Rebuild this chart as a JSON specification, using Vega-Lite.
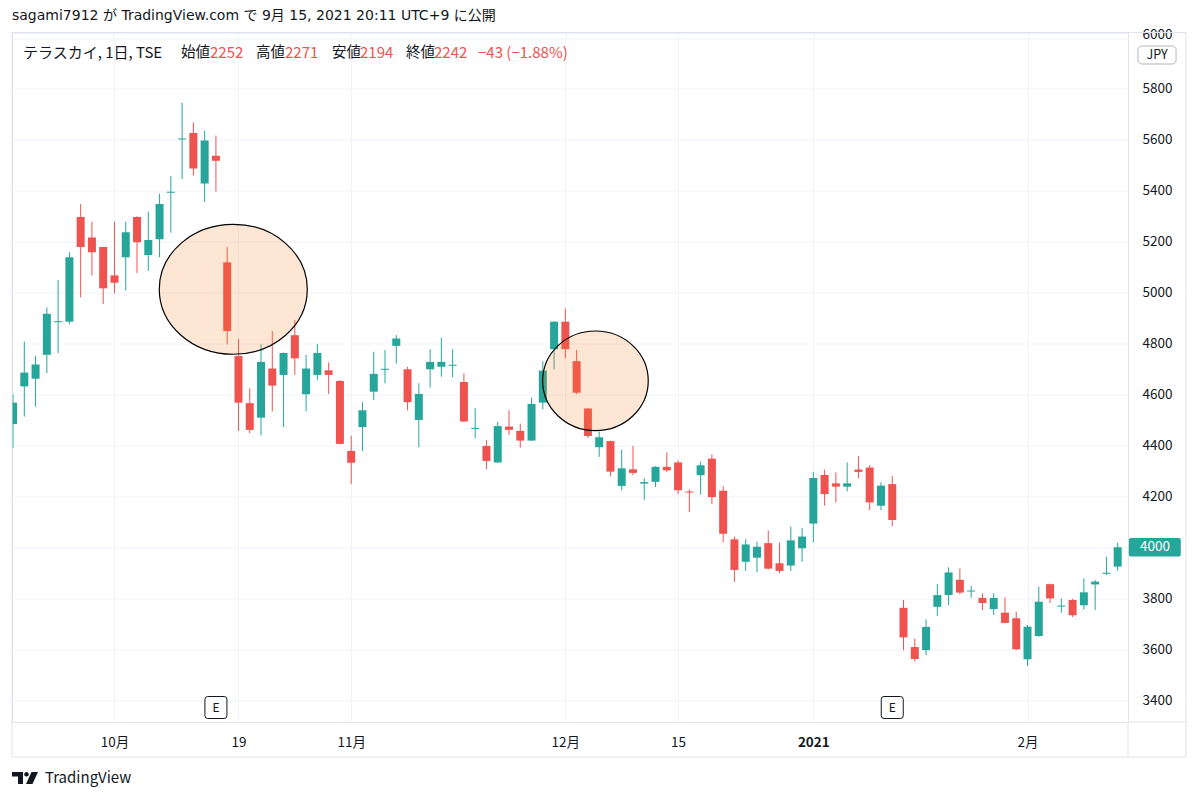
{
  "$schema": "https://vega.github.io/schema/vega-lite/v6.json",
  "width": 1116,
  "height": 689.5,
  "autosize": {"type": "none"},
  "padding": {"left": 12, "top": 32.5, "right": 72, "bottom": 78},
  "background": "#ffffff",
  "title": {"text": "sagami7912 が TradingView.com で 9月 15, 2021 20:11 UTC+9 に公開", "anchor": "start", "frame": "group", "fontSize": 14, "fontWeight": "normal", "color": "#131722", "offset": 4, "font": "DejaVu Sans, Noto Sans CJK JP"},
  "config": {"view": {"stroke": "#e0e3eb"}, "font": "Noto Sans CJK JP"},
  "resolve": {"axis": {"x": "independent", "y": "independent"}},
  "data": {"values": [
    {"i":0,"d":"2020-09-16","o":4484,"h":4600,"l":4390,"c":4568},
    {"i":1,"d":"2020-09-17","o":4632,"h":4808,"l":4513,"c":4686},
    {"i":2,"d":"2020-09-18","o":4662,"h":4751,"l":4552,"c":4718},
    {"i":3,"d":"2020-09-23","o":4756,"h":4942,"l":4684,"c":4917},
    {"i":4,"d":"2020-09-24","o":4884,"h":5050,"l":4762,"c":4888},
    {"i":5,"d":"2020-09-25","o":4886,"h":5159,"l":4876,"c":5139},
    {"i":6,"d":"2020-09-28","o":5297,"h":5348,"l":4981,"c":5179},
    {"i":7,"d":"2020-09-29","o":5217,"h":5279,"l":5067,"c":5159},
    {"i":8,"d":"2020-09-30","o":5179,"h":5180,"l":4956,"c":5017},
    {"i":9,"d":"2020-10-02","o":5068,"h":5279,"l":4997,"c":5039},
    {"i":10,"d":"2020-10-05","o":5139,"h":5279,"l":5008,"c":5237},
    {"i":11,"d":"2020-10-06","o":5297,"h":5300,"l":5077,"c":5198},
    {"i":12,"d":"2020-10-07","o":5148,"h":5318,"l":5085,"c":5207},
    {"i":13,"d":"2020-10-08","o":5210,"h":5388,"l":5139,"c":5348},
    {"i":14,"d":"2020-10-09","o":5392,"h":5458,"l":5236,"c":5396},
    {"i":15,"d":"2020-10-12","o":5602,"h":5747,"l":5446,"c":5606},
    {"i":16,"d":"2020-10-13","o":5627,"h":5669,"l":5460,"c":5488},
    {"i":17,"d":"2020-10-14","o":5429,"h":5636,"l":5357,"c":5598},
    {"i":18,"d":"2020-10-15","o":5538,"h":5617,"l":5397,"c":5518},
    {"i":19,"d":"2020-10-16","o":5119,"h":5179,"l":4797,"c":4849},
    {"i":20,"d":"2020-10-19","o":4751,"h":4818,"l":4457,"c":4568},
    {"i":21,"d":"2020-10-20","o":4566,"h":4624,"l":4448,"c":4461},
    {"i":22,"d":"2020-10-21","o":4509,"h":4797,"l":4439,"c":4728},
    {"i":23,"d":"2020-10-22","o":4702,"h":4849,"l":4534,"c":4635},
    {"i":24,"d":"2020-10-23","o":4677,"h":4765,"l":4472,"c":4763},
    {"i":25,"d":"2020-10-26","o":4833,"h":4893,"l":4677,"c":4742},
    {"i":26,"d":"2020-10-27","o":4601,"h":4755,"l":4534,"c":4702},
    {"i":27,"d":"2020-10-28","o":4677,"h":4798,"l":4657,"c":4763},
    {"i":28,"d":"2020-10-29","o":4695,"h":4726,"l":4602,"c":4677},
    {"i":29,"d":"2020-10-30","o":4653,"h":4657,"l":4404,"c":4406},
    {"i":30,"d":"2020-11-02","o":4378,"h":4438,"l":4248,"c":4332},
    {"i":31,"d":"2020-11-04","o":4472,"h":4570,"l":4378,"c":4538},
    {"i":32,"d":"2020-11-05","o":4611,"h":4768,"l":4578,"c":4681},
    {"i":33,"d":"2020-11-06","o":4697,"h":4775,"l":4644,"c":4701},
    {"i":34,"d":"2020-11-09","o":4791,"h":4833,"l":4722,"c":4820},
    {"i":35,"d":"2020-11-10","o":4699,"h":4709,"l":4538,"c":4570},
    {"i":36,"d":"2020-11-11","o":4500,"h":4644,"l":4393,"c":4602},
    {"i":37,"d":"2020-11-12","o":4699,"h":4778,"l":4628,"c":4728},
    {"i":38,"d":"2020-11-13","o":4709,"h":4823,"l":4670,"c":4728},
    {"i":39,"d":"2020-11-16","o":4713,"h":4778,"l":4668,"c":4717},
    {"i":40,"d":"2020-11-17","o":4649,"h":4683,"l":4492,"c":4494},
    {"i":41,"d":"2020-11-18","o":4465,"h":4546,"l":4428,"c":4469},
    {"i":42,"d":"2020-11-19","o":4398,"h":4421,"l":4307,"c":4339},
    {"i":43,"d":"2020-11-20","o":4333,"h":4492,"l":4331,"c":4476},
    {"i":44,"d":"2020-11-24","o":4474,"h":4538,"l":4441,"c":4461},
    {"i":45,"d":"2020-11-25","o":4457,"h":4486,"l":4391,"c":4419},
    {"i":46,"d":"2020-11-26","o":4419,"h":4588,"l":4417,"c":4563},
    {"i":47,"d":"2020-11-27","o":4568,"h":4731,"l":4542,"c":4694},
    {"i":48,"d":"2020-11-30","o":4778,"h":4888,"l":4699,"c":4886},
    {"i":49,"d":"2020-12-01","o":4886,"h":4938,"l":4742,"c":4778},
    {"i":50,"d":"2020-12-02","o":4731,"h":4775,"l":4602,"c":4607},
    {"i":51,"d":"2020-12-03","o":4545,"h":4547,"l":4429,"c":4437},
    {"i":52,"d":"2020-12-04","o":4393,"h":4454,"l":4355,"c":4432},
    {"i":53,"d":"2020-12-07","o":4417,"h":4419,"l":4278,"c":4297},
    {"i":54,"d":"2020-12-08","o":4241,"h":4383,"l":4223,"c":4310},
    {"i":55,"d":"2020-12-09","o":4306,"h":4398,"l":4284,"c":4292},
    {"i":56,"d":"2020-12-10","o":4250,"h":4271,"l":4186,"c":4256},
    {"i":57,"d":"2020-12-11","o":4257,"h":4318,"l":4237,"c":4316},
    {"i":58,"d":"2020-12-14","o":4316,"h":4373,"l":4297,"c":4302},
    {"i":59,"d":"2020-12-15","o":4333,"h":4341,"l":4209,"c":4224},
    {"i":60,"d":"2020-12-16","o":4219,"h":4227,"l":4139,"c":4215},
    {"i":61,"d":"2020-12-17","o":4283,"h":4337,"l":4207,"c":4322},
    {"i":62,"d":"2020-12-18","o":4348,"h":4365,"l":4169,"c":4197},
    {"i":63,"d":"2020-12-21","o":4222,"h":4240,"l":4019,"c":4053},
    {"i":64,"d":"2020-12-22","o":4031,"h":4042,"l":3864,"c":3911},
    {"i":65,"d":"2020-12-23","o":3943,"h":4031,"l":3907,"c":4011},
    {"i":66,"d":"2020-12-24","o":3959,"h":4022,"l":3902,"c":4002},
    {"i":67,"d":"2020-12-25","o":4016,"h":4066,"l":3913,"c":3916},
    {"i":68,"d":"2020-12-28","o":3937,"h":4018,"l":3898,"c":3907},
    {"i":69,"d":"2020-12-29","o":3928,"h":4081,"l":3907,"c":4027},
    {"i":70,"d":"2020-12-30","o":3996,"h":4075,"l":3943,"c":4042},
    {"i":71,"d":"2021-01-04","o":4093,"h":4296,"l":4019,"c":4272},
    {"i":72,"d":"2021-01-05","o":4284,"h":4305,"l":4163,"c":4209},
    {"i":73,"d":"2021-01-06","o":4251,"h":4294,"l":4176,"c":4238},
    {"i":74,"d":"2021-01-07","o":4238,"h":4333,"l":4219,"c":4251},
    {"i":75,"d":"2021-01-08","o":4305,"h":4358,"l":4271,"c":4296},
    {"i":76,"d":"2021-01-12","o":4313,"h":4323,"l":4146,"c":4176},
    {"i":77,"d":"2021-01-13","o":4163,"h":4255,"l":4146,"c":4242},
    {"i":78,"d":"2021-01-14","o":4248,"h":4280,"l":4083,"c":4107},
    {"i":79,"d":"2021-01-15","o":3762,"h":3793,"l":3596,"c":3646},
    {"i":80,"d":"2021-01-18","o":3608,"h":3641,"l":3551,"c":3561},
    {"i":81,"d":"2021-01-19","o":3596,"h":3717,"l":3577,"c":3687},
    {"i":82,"d":"2021-01-20","o":3766,"h":3855,"l":3731,"c":3812},
    {"i":83,"d":"2021-01-21","o":3812,"h":3921,"l":3773,"c":3901},
    {"i":84,"d":"2021-01-22","o":3872,"h":3917,"l":3815,"c":3822},
    {"i":85,"d":"2021-01-25","o":3826,"h":3848,"l":3802,"c":3830},
    {"i":86,"d":"2021-01-26","o":3801,"h":3819,"l":3753,"c":3781},
    {"i":87,"d":"2021-01-27","o":3757,"h":3819,"l":3734,"c":3801},
    {"i":88,"d":"2021-01-28","o":3743,"h":3803,"l":3701,"c":3703},
    {"i":89,"d":"2021-01-29","o":3721,"h":3747,"l":3597,"c":3599},
    {"i":90,"d":"2021-02-01","o":3560,"h":3695,"l":3534,"c":3688},
    {"i":91,"d":"2021-02-02","o":3651,"h":3845,"l":3649,"c":3786},
    {"i":92,"d":"2021-02-03","o":3855,"h":3857,"l":3781,"c":3799},
    {"i":93,"d":"2021-02-04","o":3767,"h":3799,"l":3743,"c":3771},
    {"i":94,"d":"2021-02-05","o":3793,"h":3797,"l":3726,"c":3733},
    {"i":95,"d":"2021-02-08","o":3772,"h":3878,"l":3755,"c":3823},
    {"i":96,"d":"2021-02-09","o":3854,"h":3871,"l":3754,"c":3865},
    {"i":97,"d":"2021-02-10","o":3896,"h":3963,"l":3891,"c":3900},
    {"i":98,"d":"2021-02-12","o":3924,"h":4018,"l":3908,"c":4000}
  ]},
  "layer": [
    {
      "mark": {"type": "rule", "strokeWidth": 1, "clip": true},
      "encoding": {
        "x": {"field": "i", "type": "quantitative", "scale": {"domain": [-0.0914, 98.915], "nice": false, "zero": false, "padding": 0},
          "axis": {"orient": "bottom", "values": [9, 20, 30, 49, 59, 71, 90],
            "labelExpr": "datum.value==9?'10月':datum.value==20?'19':datum.value==30?'11月':datum.value==49?'12月':datum.value==59?'15':datum.value==71?'2021':'2月'",
            "grid": true, "gridColor": "#f0f3fa", "domain": false, "ticks": false, "labelPadding": 13, "labelFontSize": 13.5, "labelColor": "#131722", "title": null, "labelFlush": false, "labelOverlap": false,
            "labelFontWeight": {"condition": {"test": "datum.value==71", "value": "bold"}, "value": "normal"}}},
        "y": {"field": "l", "type": "quantitative", "scale": {"domain": [3313.6, 6021.9], "nice": false, "zero": false, "padding": 0},
          "axis": {"orient": "right", "values": [3400, 3600, 3800, 4000, 4200, 4400, 4600, 4800, 5000, 5200, 5400, 5600, 5800, 6000],
            "format": "d", "labelExpr": "datum.value == 4000 ? '' : datum.label",
            "labelOffset": {"condition": {"test": "datum.value == 6000", "value": -4}, "value": 0},
            "grid": true, "gridColor": "#f0f3fa", "domain": false, "ticks": false, "labelPadding": 14, "labelFontSize": 13.5, "labelColor": "#131722", "title": null, "labelFlush": false, "labelOverlap": false}},
        "y2": {"field": "h"},
        "color": {"condition": {"test": "datum.c >= datum.o", "value": "#26a69a"}, "value": "#ef5350"}
      }
    },
    {
      "mark": {"type": "bar", "width": 8, "clip": true},
      "encoding": {
        "x": {"field": "i", "type": "quantitative", "axis": null},
        "y": {"field": "o", "type": "quantitative", "axis": null},
        "y2": {"field": "c"},
        "color": {"condition": {"test": "datum.c >= datum.o", "value": "#26a69a"}, "value": "#ef5350"}
      }
    },
    {
      "data": {"values": [{"note": "決算後の急落"}]},
      "mark": {"type": "point", "shape": "M -1 0 C -1 -0.4849 -0.5523 -0.878 0 -0.878 C 0.5523 -0.878 1 -0.4849 1 0 C 1 0.4849 0.5523 0.878 0 0.878 C -0.5523 0.878 -1 0.4849 -1 0 Z", "size": 21904, "filled": true, "fill": "#f5802a", "fillOpacity": 0.2, "stroke": "#000000", "strokeWidth": 1.2, "opacity": 1},
      "encoding": {"x": {"datum": 19.54, "axis": null}, "y": {"datum": 5013.3, "axis": null}}
    },
    {
      "data": {"values": [{"note": "12月の下落"}]},
      "mark": {"type": "point", "shape": "M -1 0 C -1 -0.5208 -0.5523 -0.943 0 -0.943 C 0.5523 -0.943 1 -0.5208 1 0 C 1 0.5208 0.5523 0.943 0 0.943 C -0.5523 0.943 -1 0.5208 -1 0 Z", "size": 11151, "filled": true, "fill": "#f5802a", "fillOpacity": 0.2, "stroke": "#000000", "strokeWidth": 1.2, "opacity": 1},
      "encoding": {"x": {"datum": 51.67, "axis": null}, "y": {"datum": 4653.8, "axis": null}}
    },
    {
      "data": {"values": [{"i": 18, "ev": "E"}, {"i": 78, "ev": "E"}]},
      "mark": {"type": "point", "shape": "M -0.75 -1 L 0.75 -1 Q 1 -1 1 -0.75 L 1 0.75 Q 1 1 0.75 1 L -0.75 1 Q -1 1 -1 0.75 L -1 -0.75 Q -1 -1 -0.75 -1 Z", "size": 484, "filled": true, "fill": "#ffffff", "stroke": "#131722", "strokeWidth": 1, "opacity": 1},
      "encoding": {"x": {"field": "i", "type": "quantitative", "axis": null}, "y": {"datum": 3370.5, "axis": null}}
    },
    {
      "data": {"values": [{"i": 18, "ev": "E"}, {"i": 78, "ev": "E"}]},
      "mark": {"type": "text", "fontSize": 12, "color": "#131722", "align": "center", "baseline": "middle"},
      "encoding": {"x": {"field": "i", "type": "quantitative", "axis": null}, "y": {"datum": 3370.5, "axis": null}, "text": {"field": "ev"}}
    },
    {
      "data": {"values": [{}]},
      "mark": {"type": "text", "text": "テラスカイ, 1日, TSE", "fontSize": 15, "color": "#131722", "align": "left", "baseline": "middle"},
      "encoding": {"x": {"datum": 0.885, "axis": null}, "y": {"datum": 5941.4, "axis": null}}
    },
    {
      "data": {"values": [{}]},
      "mark": {"type": "text", "text": "始値", "fontSize": 14.5, "color": "#131722", "align": "left", "baseline": "middle"},
      "encoding": {"x": {"datum": 14.902, "axis": null}, "y": {"datum": 5941.4, "axis": null}}
    },
    {
      "data": {"values": [{}]},
      "mark": {"type": "text", "text": "2252", "fontSize": 15, "color": "#ef5350", "align": "left", "baseline": "middle"},
      "encoding": {"x": {"datum": 17.475, "axis": null}, "y": {"datum": 5941.4, "axis": null}}
    },
    {
      "data": {"values": [{}]},
      "mark": {"type": "text", "text": "高値", "fontSize": 14.5, "color": "#131722", "align": "left", "baseline": "middle"},
      "encoding": {"x": {"datum": 21.556, "axis": null}, "y": {"datum": 5941.4, "axis": null}}
    },
    {
      "data": {"values": [{}]},
      "mark": {"type": "text", "text": "2271", "fontSize": 15, "color": "#ef5350", "align": "left", "baseline": "middle"},
      "encoding": {"x": {"datum": 24.128, "axis": null}, "y": {"datum": 5941.4, "axis": null}}
    },
    {
      "data": {"values": [{}]},
      "mark": {"type": "text", "text": "安値", "fontSize": 14.5, "color": "#131722", "align": "left", "baseline": "middle"},
      "encoding": {"x": {"datum": 28.298, "axis": null}, "y": {"datum": 5941.4, "axis": null}}
    },
    {
      "data": {"values": [{}]},
      "mark": {"type": "text", "text": "2194", "fontSize": 15, "color": "#ef5350", "align": "left", "baseline": "middle"},
      "encoding": {"x": {"datum": 30.782, "axis": null}, "y": {"datum": 5941.4, "axis": null}}
    },
    {
      "data": {"values": [{}]},
      "mark": {"type": "text", "text": "終値", "fontSize": 14.5, "color": "#131722", "align": "left", "baseline": "middle"},
      "encoding": {"x": {"datum": 34.863, "axis": null}, "y": {"datum": 5941.4, "axis": null}}
    },
    {
      "data": {"values": [{}]},
      "mark": {"type": "text", "text": "2242", "fontSize": 15, "color": "#ef5350", "align": "left", "baseline": "middle"},
      "encoding": {"x": {"datum": 37.347, "axis": null}, "y": {"datum": 5941.4, "axis": null}}
    },
    {
      "data": {"values": [{}]},
      "mark": {"type": "text", "text": "−43 (−1.88%)", "fontSize": 15, "color": "#ef5350", "align": "left", "baseline": "middle"},
      "encoding": {"x": {"datum": 41.251, "axis": null}, "y": {"datum": 5941.4, "axis": null}}
    },
    {
      "data": {"values": [{}]},
      "mark": {"type": "rect", "fill": "#26a69a", "cornerRadius": 2},
      "encoding": {
        "x": {"datum": 98.99, "axis": null},
        "x2": {"datum": 103.6},
        "y": {"datum": 4036, "axis": null},
        "y2": {"datum": 3964}
      }
    },
    {
      "data": {"values": [{}]},
      "mark": {"type": "text", "text": "4000", "fontSize": 13.5, "color": "#ffffff", "align": "center", "baseline": "middle"},
      "encoding": {"x": {"datum": 101.3, "axis": null}, "y": {"datum": 4000, "axis": null}}
    },
    {
      "data": {"values": [{}]},
      "mark": {"type": "rect", "fill": "#ffffff", "stroke": "#b2b5be", "strokeWidth": 1, "cornerRadius": 4},
      "encoding": {
        "x": {"datum": 99.8, "axis": null},
        "x2": {"datum": 103.18},
        "y": {"datum": 5968.9, "axis": null},
        "y2": {"datum": 5898.2}
      }
    },
    {
      "data": {"values": [{}]},
      "mark": {"type": "text", "text": "JPY", "fontSize": 12.5, "color": "#131722", "align": "center", "baseline": "middle"},
      "encoding": {"x": {"datum": 101.49, "axis": null}, "y": {"datum": 5931.6, "axis": null}}
    },
    {
      "data": {"values": [{}]},
      "mark": {"type": "rect", "fillOpacity": 0, "stroke": "#e0e3eb", "strokeWidth": 1},
      "encoding": {
        "x": {"datum": -0.0914, "axis": null},
        "x2": {"datum": 104.06},
        "y": {"datum": 6021.9, "axis": null},
        "y2": {"datum": 3176.1}
      }
    },
    {
      "data": {"values": [{}]},
      "mark": {"type": "rule", "color": "#e0e3eb", "strokeWidth": 1},
      "encoding": {
        "x": {"datum": 98.915, "axis": null},
        "x2": {"datum": 104.06},
        "y": {"datum": 3313.6, "axis": null}
      }
    },
    {
      "data": {"values": [{}]},
      "mark": {"type": "rule", "color": "#e0e3eb", "strokeWidth": 1},
      "encoding": {
        "x": {"datum": 98.915, "axis": null},
        "y": {"datum": 3313.6, "axis": null},
        "y2": {"datum": 3176.1}
      }
    },
    {
      "data": {"values": [{}]},
      "mark": {"type": "point", "shape": "M -1 -0.4615 L -0.1538 -0.4615 L -0.1538 0.4615 L -0.5385 0.4615 L -0.5385 -0.1154 L -1 -0.1154 Z M -0.0616 -0.2846 C -0.0616 -0.3823 0.0177 -0.4616 0.1154 -0.4616 C 0.2131 -0.4616 0.2924 -0.3823 0.2924 -0.2846 C 0.2924 -0.1869 0.2131 -0.1076 0.1154 -0.1076 C 0.0177 -0.1076 -0.0616 -0.1869 -0.0616 -0.2846 Z M 0.5 -0.4615 L 1 -0.4615 L 0.5769 0.4615 L 0.0769 0.4615 Z", "size": 676, "filled": true, "fill": "#131722", "strokeWidth": 0, "opacity": 1},
      "encoding": {"x": {"datum": 1.062, "axis": null}, "y": {"datum": 3093.6, "axis": null}}
    },
    {
      "data": {"values": [{}]},
      "mark": {"type": "text", "text": "TradingView", "fontSize": 15, "color": "#131722", "align": "left", "baseline": "middle"},
      "encoding": {"x": {"datum": 2.836, "axis": null}, "y": {"datum": 3093.6, "axis": null}}
    }
  ]
}
